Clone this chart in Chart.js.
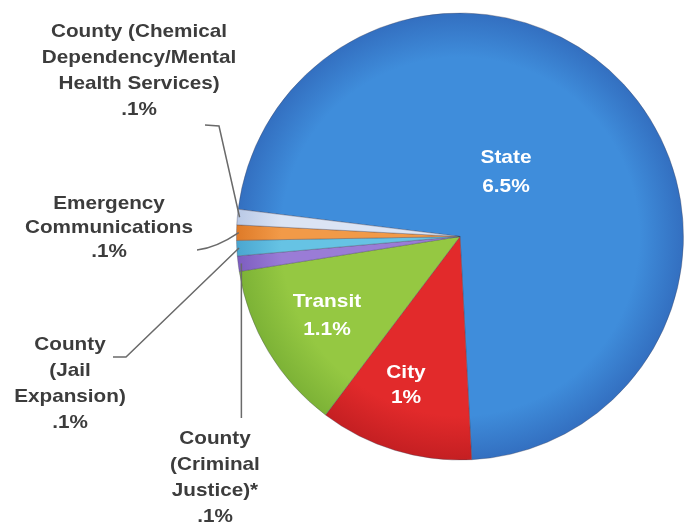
<!DOCTYPE html>
<html>
<head>
<meta charset="utf-8">
<script src="https://cdn.jsdelivr.net/npm/chart.js@4.4.1/dist/chart.umd.min.js"></script>
<style>
  body { margin: 0; background: #fff; }
  #pie { display: block; }
</style>
</head>
<body>
<canvas id="pie" width="685" height="525"></canvas>
<script>
// Доли налога с продаж, в процентах
const categories = [
    'State',
    'City',
    'Transit',
    'County (Criminal Justice)*',
    'County (Jail Expansion)',
    'Emergency Communications',
    'County (Chemical Dependency/Mental Health Services)'
];
const rates = [6.5, 1, 1.1, 0.1, 0.1, 0.1, 0.1];
const rateLabels = ['6.5%', '1%', '1.1%', '.1%', '.1%', '.1%', '.1%'];

// Цвета секторов: светлее у центра, темнее у края
const innerColors = ['#3f8ddb', '#e22a2b', '#95c842', '#9a7cd6', '#66c3e4', '#f29a48', '#dbe4f4'];
const outerColors = ['#336fc0', '#c41f22', '#7cb236', '#7d5dc0', '#4aa6d0', '#de7a28', '#b9c9e6'];

// Подписи внутри секторов
const insideLabels = [
    { lines: ['State', '6.5%'], x: 506, y: [163, 192] },
    { lines: ['City', '1%'], x: 406, y: [378, 403] },
    { lines: ['Transit', '1.1%'], x: 327, y: [307, 335] }
];

// Выносные подписи для маленьких секторов
const outsideLabels = [
    { index: 6, lines: ['County (Chemical', 'Dependency/Mental', 'Health Services)', '.1%'], x: 139, y: 37, step: 26 },
    { index: 5, lines: ['Emergency', 'Communications', '.1%'], x: 109, y: 209, step: 24 },
    { index: 4, lines: ['County', '(Jail', 'Expansion)', '.1%'], x: 70, y: 350, step: 26 },
    { index: 3, lines: ['County', '(Criminal', 'Justice)*', '.1%'], x: 215, y: 444, step: 26 }
];

function sliceColor(context) {
    const chart = context.chart;
    const area = chart.chartArea;
    if (!area) return innerColors[context.dataIndex];
    const cx = (area.left + area.right) / 2;
    const cy = (area.top + area.bottom) / 2;
    const r = Math.min(area.right - area.left, area.bottom - area.top) / 2;
    const g = chart.ctx.createRadialGradient(cx, cy, 0, cx, cy, r);
    g.addColorStop(0, innerColors[context.dataIndex]);
    g.addColorStop(0.8, innerColors[context.dataIndex]);
    g.addColorStop(1, outerColors[context.dataIndex]);
    return g;
}

// Точка на краю сектора (по середине угла)
function edgePoint(arc, k) {
    const a = (arc.startAngle + arc.endAngle) / 2;
    return { x: arc.x + Math.cos(a) * arc.outerRadius * k, y: arc.y + Math.sin(a) * arc.outerRadius * k };
}

function drawText(ctx, text, x, y, size, color, stretch) {
    ctx.save();
    ctx.font = 'bold ' + size + 'px "Liberation Sans", Arial, sans-serif';
    ctx.fillStyle = color;
    ctx.textAlign = 'center';
    ctx.textBaseline = 'alphabetic';
    ctx.translate(x, y);
    ctx.scale(stretch, 1);
    ctx.fillText(text, 0, 0);
    ctx.restore();
}

const labelsPlugin = {
    id: 'pieLabels',
    afterDraw(chart) {
        const ctx = chart.ctx;
        const arcs = chart.getDatasetMeta(0).data;

        insideLabels.forEach(l => {
            l.lines.forEach((t, i) => drawText(ctx, t, l.x, l.y[i], 19, '#ffffff', 1.1));
        });

        outsideLabels.forEach(l => {
            l.lines.forEach((t, i) => drawText(ctx, t, l.x, l.y + i * l.step, 19, '#3c3c3c', 1.09));
        });

        // Выносные линии
        ctx.save();
        ctx.strokeStyle = '#6a6a6a';
        ctx.lineWidth = 1.5;

        let p = edgePoint(arcs[6], 0.99);
        ctx.beginPath();
        ctx.moveTo(205, 125);
        ctx.lineTo(219, 126);
        ctx.lineTo(p.x, p.y);
        ctx.stroke();

        p = edgePoint(arcs[5], 0.99);
        ctx.beginPath();
        ctx.moveTo(197, 250);
        ctx.quadraticCurveTo(216, 248, p.x, p.y);
        ctx.stroke();

        p = edgePoint(arcs[4], 0.99);
        ctx.beginPath();
        ctx.moveTo(113, 357);
        ctx.lineTo(126, 357);
        ctx.lineTo(p.x, p.y);
        ctx.stroke();

        p = edgePoint(arcs[3], 0.99);
        ctx.beginPath();
        ctx.moveTo(p.x + 1, p.y);
        ctx.lineTo(p.x + 1, 418);
        ctx.stroke();
        ctx.restore();
    }
};

new Chart(document.getElementById('pie').getContext('2d'), {
    type: 'pie',
    data: {
        labels: categories,
        datasets: [{
            data: rates,
            backgroundColor: sliceColor,
            borderColor: 'rgba(70, 70, 90, 0.35)',
            borderWidth: 1
        }]
    },
    options: {
        responsive: false,
        animation: false,
        rotation: -83,
        layout: { padding: { left: 236, right: 1, top: 12, bottom: 64 } },
        plugins: {
            legend: { display: false },
            tooltip: { enabled: false }
        }
    },
    plugins: [labelsPlugin]
});
</script>
</body>
</html>
